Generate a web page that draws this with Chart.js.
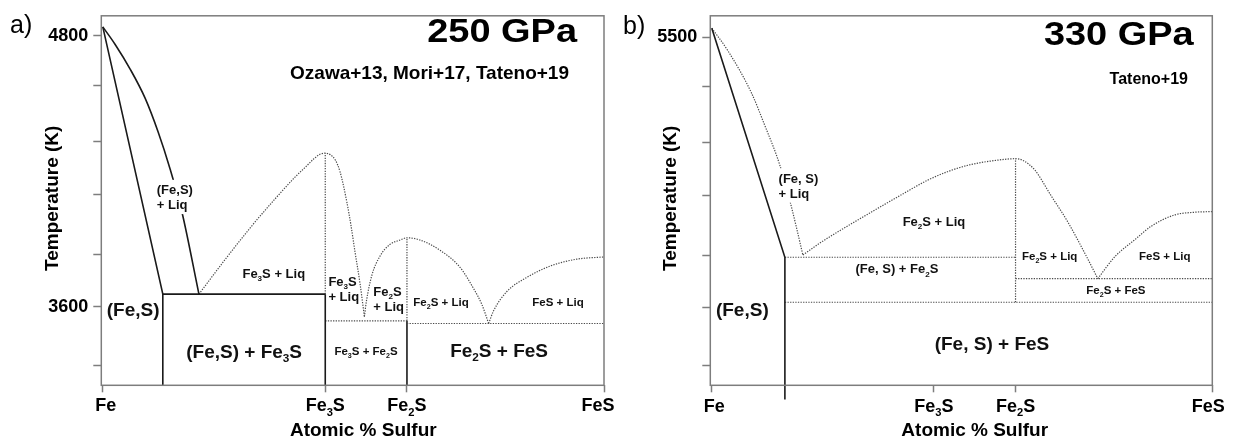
<!DOCTYPE html>
<html>
<head>
<meta charset="utf-8">
<script src="https://cdn.jsdelivr.net/npm/chart.js@4"></script>
<style>
  html, body { margin: 0; padding: 0; background: #fff; }
  #wrap { position: relative; width: 1238px; height: 444px; overflow: hidden; }
  canvas { position: absolute; top: 0; }
</style>
</head>
<body>
<div id="wrap">
  <canvas id="p250" width="619" height="444" style="left:0px"></canvas>
  <canvas id="p330" width="619" height="444" style="left:619px"></canvas>
</div>
<script>
// ---------------- composition axis (wt% S, Fe -> FeS) ----------------
const compTicks = [0, 16.2, 22.15, 36.5];
const compNames = ['Fe', 'Fe_3S', 'Fe_2S', 'FeS'];

// ---------------- 250 GPa ----------------
const temp250Min = 3251, temp250Max = 4889;
const temp250Ticks = [4800, 4580, 4330, 4095, 3830, 3600, 3340];
const temp250Shown = [4800, 3600];

const liqFe250X = [0, 0.9, 1.99, 3.08, 4.03, 4.9, 5.77, 7.0];
const liqFe250T = [4840, 4762, 4653, 4524, 4374, 4210, 4017, 3655];
const solFe250X = [0, 4.37, 4.37];
const solFe250T = [4840, 3655, temp250Min];
const eutFe250X = [4.37, 16.2];
const eutFe250T = [3655, 3655];
const fe3sLow250X = [16.2, 16.2];
const fe3sLow250T = [temp250Min, 3655];
const fe3sHigh250X = [16.2, 16.2];
const fe3sHigh250T = [3655, 4280];
const liqFe3s250X = [7.0, 8.9, 10.72, 12.54, 14.0, 14.8, 15.37, 15.81, 16.2, 16.57, 16.94, 17.28, 17.77, 18.06, 18.37, 18.73, 19.05];
const liqFe3s250T = [3655, 3808, 3948, 4077, 4174, 4221, 4255, 4275, 4280, 4273, 4249, 4197, 4064, 3965, 3841, 3703, 3555];
const liqFe2s250X = [19.05, 19.2, 19.6, 20.2, 20.9, 21.65, 22.15, 23.1, 24.55, 26.0, 27.0, 27.6, 28.1];
const liqFe2s250T = [3555, 3625, 3740, 3825, 3875, 3895, 3905, 3895, 3850, 3775, 3680, 3610, 3525];
const liqFes250X = [28.1, 28.45, 29.4, 30.9, 32.6, 34.5, 36.5];
const liqFes250T = [3525, 3580, 3665, 3730, 3780, 3810, 3820];
const eutFe3s250X = [16.2, 22.15];
const eutFe3s250T = [3537, 3537];
const eutFe2s250X = [22.15, 36.5];
const eutFe2s250T = [3525, 3525];
const fe2sHigh250X = [22.15, 22.15];
const fe2sHigh250T = [3537, 3905];
const fe2sLow250X = [22.15, 22.15];
const fe2sLow250T = [temp250Min, 3537];

const fields250 = [
  { text: '(Fe,S)\n+ Liq', x: 3.93, t: 4086, cls: 'mid', align: 'left', knockout: true },
  { text: 'Fe_3S + Liq', x: 12.45, t: 3748, cls: 'mid' },
  { text: '(Fe,S)', x: 2.21, t: 3590, cls: 'big' },
  { text: '(Fe,S) + Fe_3S', x: 10.29, t: 3404, cls: 'big' },
  { text: 'Fe_3S\n+ Liq', x: 16.43, t: 3679, cls: 'mid', align: 'left' },
  { text: 'Fe_2S\n+ Liq', x: 19.70, t: 3636, cls: 'mid', align: 'left' },
  { text: 'Fe_2S + Liq', x: 24.63, t: 3620, cls: 'small' },
  { text: 'FeS + Liq', x: 33.15, t: 3620, cls: 'small' },
  { text: 'Fe_3S + Fe_2S', x: 19.17, t: 3404, cls: 'small' },
  { text: 'Fe_2S + FeS', x: 28.86, t: 3408, cls: 'big' }
];

// ---------------- 330 GPa ----------------
const temp330Min = 3953, temp330Max = 5595;
const temp330Ticks = [5500, 5280, 5030, 4795, 4530, 4300, 4040];
const temp330Shown = [5500];

const solFe330X = [0, 5.33, 5.33];
const solFe330T = [5540, 4522, 3890];
const liqFe330X = [0, 1.17, 2.87, 3.85, 4.94, 5.79, 6.15, 6.64];
const liqFe330T = [5540, 5440, 5255, 5110, 4935, 4750, 4660, 4532];
const liqFe2s330X = [6.64, 7.88, 9.41, 11.53, 13.72, 15.76, 17.36, 18.9, 20.65, 22.15, 22.7, 23.55, 24.75, 25.95, 27.2, 28.15];
const liqFe2s330T = [4532, 4585, 4643, 4719, 4796, 4865, 4906, 4934, 4952, 4960, 4952, 4910, 4795, 4680, 4540, 4427];
const liqFes330X = [28.15, 29.4, 30.85, 32.05, 33.75, 35.2, 36.5];
const liqFes330T = [4427, 4525, 4600, 4660, 4710, 4722, 4725];
const eutFe330X = [5.33, 22.15];
const eutFe330T = [4522, 4522];
const eutFe2s330X = [22.15, 36.5];
const eutFe2s330T = [4427, 4427];
const subsol330X = [5.33, 36.5];
const subsol330T = [4322, 4322];
const fe2s330X = [22.15, 22.15];
const fe2s330T = [4322, 4960];

const fields330 = [
  { text: '(Fe, S)\n+ Liq', x: 4.87, t: 4841, cls: 'mid', align: 'left', knockout: true },
  { text: 'Fe_2S + Liq', x: 16.2, t: 4682, cls: 'mid' },
  { text: '(Fe, S) + Fe_2S', x: 13.5, t: 4471, cls: 'mid' },
  { text: 'Fe_2S + Liq', x: 24.64, t: 4527, cls: 'small' },
  { text: 'FeS + Liq', x: 33.03, t: 4527, cls: 'small' },
  { text: 'Fe_2S + FeS', x: 29.47, t: 4376, cls: 'small' },
  { text: '(Fe, S) + FeS', x: 20.43, t: 4138, cls: 'big' },
  { text: '(Fe,S)', x: 2.225, t: 4290, cls: 'big' }
];

// ---------------- styles ----------------
const FONT = '"Liberation Sans", Arial, Helvetica, sans-serif';
const INK = '#111111';
const FRAME = '#7d7d7d';
const SIZES = { big: 19, mid: 13, small: 11.5 };

const STYLE = {
  solid:  { borderColor: '#1a1a1a', borderWidth: 1.6, tension: 0 },
  solidC: { borderColor: '#1a1a1a', borderWidth: 1.6, cubicInterpolationMode: 'monotone' },
  dot:    { borderColor: '#4a4a4a', borderWidth: 1.2, borderDash: [1.3, 1.3], tension: 0 },
  dotC:   { borderColor: '#4a4a4a', borderWidth: 1.2, borderDash: [1.3, 1.3], cubicInterpolationMode: 'monotone' }
};

function line(xs, ts, style, extra) {
  return Object.assign({
    data: xs.map((x, i) => ({ x: x, y: ts[i] })),
    showLine: true, pointRadius: 0, pointHoverRadius: 0, fill: false
  }, STYLE[style], extra || {});
}

// ---------------- rich text (subscripts written as _n) ----------------
function pieces(str) {
  const out = [];
  let buf = '';
  for (let i = 0; i < str.length; i++) {
    if (str[i] === '_' && i + 1 < str.length) {
      if (buf) { out.push({ t: buf, sub: false }); buf = ''; }
      out.push({ t: str[i + 1], sub: true });
      i++;
    } else {
      buf += str[i];
    }
  }
  if (buf) out.push({ t: buf, sub: false });
  return out;
}
function fontFor(size, weight) { return weight + ' ' + size + 'px ' + FONT; }
function richWidth(ctx, str, size, weight) {
  let w = 0;
  for (const p of pieces(str)) {
    ctx.font = fontFor(p.sub ? size * 0.62 : size, weight);
    w += ctx.measureText(p.t).width;
  }
  return w;
}
function drawRich(ctx, str, x, base, size, align, weight) {
  weight = weight || 'bold';
  const w = richWidth(ctx, str, size, weight);
  let cx = align === 'center' ? x - w / 2 : (align === 'right' ? x - w : x);
  ctx.textAlign = 'left';
  ctx.textBaseline = 'alphabetic';
  for (const p of pieces(str)) {
    const s = p.sub ? size * 0.62 : size;
    ctx.font = fontFor(s, weight);
    ctx.fillText(p.t, cx, base + (p.sub ? size * 0.25 : 0));
    cx += ctx.measureText(p.t).width;
  }
  return w;
}

// per-panel text placement (canvas pixels)
const panelText = {
  p250: {
    letter: 'a)', letterX: 10, letterBase: 33,
    title: '250 GPa', titleRight: 577, titleBase: 41.7,
    source: 'Ozawa+13, Mori+17, Tateno+19', sourceSize: 19, sourceRight: 569, sourceBase: 79,
    yTitleX: 58.3, yTitleY: 198.3, xTitleX: 363.3, xTitleBase: 435.7,
    tickBase: 411.3, tickShift: [3, 0, 0, -6],
    fields: fields250
  },
  p330: {
    letter: 'b)', letterX: 4, letterBase: 34,
    title: '330 GPa', titleRight: 574.7, titleBase: 45,
    source: 'Tateno+19', sourceSize: 16, sourceRight: 569, sourceBase: 84,
    yTitleX: 57.1, yTitleY: 198.3, xTitleX: 355.7, xTitleBase: 435.7,
    tickBase: 411.5, tickShift: [2.5, 0, 0, -4],
    fields: fields330
  }
};

const phaseText = {
  id: 'phaseText',
  afterDatasetsDraw(chart) {
    const cfg = panelText[chart.canvas.id];
    const { ctx, chartArea: ca } = chart;
    const xs = chart.scales.x, ys = chart.scales.y;
    ctx.save();

    // plot frame
    ctx.strokeStyle = FRAME;
    ctx.lineWidth = 1.5;
    ctx.strokeRect(ca.left, ca.top, ca.right - ca.left, ca.bottom - ca.top);

    // phase-field labels
    ctx.fillStyle = INK;
    for (const f of cfg.fields) {
      const size = SIZES[f.cls];
      const align = f.align || 'center';
      const lines = f.text.split('\n');
      const lh = size * 1.15;
      const cap = size * 0.716;
      const px = xs.getPixelForValue(f.x);
      const y0 = ys.getPixelForValue(f.t) - (lines.length - 1) * lh / 2;
      if (f.knockout) {
        const w = Math.max(...lines.map(l => richWidth(ctx, l, size, 'bold')));
        const left = align === 'center' ? px - w / 2 : px;
        ctx.fillStyle = '#ffffff';
        ctx.fillRect(left - 3, y0 - cap / 2 - 5, w + 6, (lines.length - 1) * lh + cap + 10);
        ctx.fillStyle = INK;
      }
      lines.forEach((l, i) => drawRich(ctx, l, px, y0 + i * lh + cap / 2, size, align));
    }

    // composition tick labels
    ctx.fillStyle = '#000';
    compTicks.forEach((v, i) =>
      drawRich(ctx, compNames[i], xs.getPixelForValue(v) + cfg.tickShift[i], cfg.tickBase, 18, 'center'));

    // axis titles
    ctx.font = fontFor(19, 'bold');
    ctx.textAlign = 'center';
    ctx.textBaseline = 'alphabetic';
    ctx.fillText('Atomic % Sulfur', cfg.xTitleX, cfg.xTitleBase);
    ctx.save();
    ctx.translate(cfg.yTitleX, cfg.yTitleY);
    ctx.rotate(-Math.PI / 2);
    ctx.fillText('Temperature (K)', 0, 0);
    ctx.restore();

    // panel letter
    ctx.font = fontFor(25, 'normal');
    ctx.textAlign = 'left';
    ctx.fillText(cfg.letter, cfg.letterX, cfg.letterBase);

    // pressure (wide display face) and sources
    ctx.save();
    ctx.translate(cfg.titleRight, cfg.titleBase);
    ctx.scale(1.15, 1);
    ctx.textAlign = 'right';
    ctx.font = fontFor(33, 'bold');
    ctx.fillText(cfg.title, 0, 0);
    ctx.restore();
    ctx.textAlign = 'right';
    ctx.font = fontFor(cfg.sourceSize, 'bold');
    ctx.fillText(cfg.source, cfg.sourceRight, cfg.sourceBase);

    ctx.restore();
  }
};

function makePanel(id, datasets, tMin, tMax, tTicks, tShown, axisWidth, padRight) {
  return new Chart(document.getElementById(id), {
    type: 'scatter',
    data: { datasets: datasets },
    options: {
      responsive: false,
      animation: false,
      devicePixelRatio: 1,
      events: [],
      layout: { padding: { left: 0, top: 4, right: padRight, bottom: 0 } },
      plugins: { legend: { display: false }, tooltip: { enabled: false } },
      scales: {
        x: {
          type: 'linear', min: -0.11, max: 36.5,
          afterBuildTicks: s => { s.ticks = compTicks.map(v => ({ value: v })); },
          afterFit: s => { s.height = 58.7; },
          ticks: { autoSkip: false, callback: () => '' },
          grid: { drawOnChartArea: false, drawTicks: true, tickLength: 7, tickColor: FRAME, tickWidth: 1.5 },
          border: { display: false }
        },
        y: {
          type: 'linear', min: tMin, max: tMax,
          afterBuildTicks: s => { s.ticks = tTicks.map(v => ({ value: v })); },
          afterFit: s => { s.width = axisWidth; },
          ticks: {
            autoSkip: false, padding: 5, color: '#000',
            font: { family: FONT, size: 18, weight: 'bold' },
            callback: v => tShown.includes(v) ? String(v) : ''
          },
          grid: { drawOnChartArea: false, drawTicks: true, tickLength: 8, tickColor: FRAME, tickWidth: 1.5 },
          border: { display: false }
        }
      }
    },
    plugins: [phaseText]
  });
}

makePanel('p250', [
  line(liqFe250X, liqFe250T, 'solidC'),
  line(solFe250X, solFe250T, 'solid'),
  line(eutFe250X, eutFe250T, 'solid'),
  line(fe3sLow250X, fe3sLow250T, 'solid'),
  line(fe3sHigh250X, fe3sHigh250T, 'dot'),
  line(liqFe3s250X, liqFe3s250T, 'dotC'),
  line(liqFe2s250X, liqFe2s250T, 'dotC'),
  line(liqFes250X, liqFes250T, 'dotC'),
  line(eutFe3s250X, eutFe3s250T, 'dot'),
  line(eutFe2s250X, eutFe2s250T, 'dot'),
  line(fe2sHigh250X, fe2sHigh250T, 'dot'),
  line(fe2sLow250X, fe2sLow250T, 'solid')
], temp250Min, temp250Max, temp250Ticks, temp250Shown, 101.3, 15);

makePanel('p330', [
  line(solFe330X, solFe330T, 'solid', { clip: false }),
  line(liqFe330X, liqFe330T, 'dotC'),
  line(liqFe2s330X, liqFe2s330T, 'dotC'),
  line(liqFes330X, liqFes330T, 'dotC'),
  line(eutFe330X, eutFe330T, 'dot'),
  line(eutFe2s330X, eutFe2s330T, 'dot'),
  line(subsol330X, subsol330T, 'dot'),
  line(fe2s330X, fe2s330T, 'dot')
], temp330Min, temp330Max, temp330Ticks, temp330Shown, 91.3, 25.7);
</script>
</body>
</html>
